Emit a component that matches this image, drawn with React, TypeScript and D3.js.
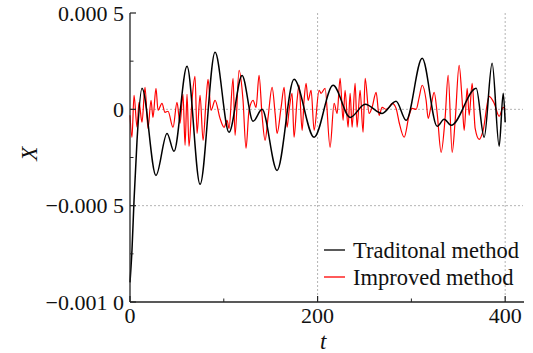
import React from "react";
import * as d3 from "d3";

// traditional method: time and X
const tradT = [0, 2.1, 4.3, 7.5, 12.8, 27.7, 39.5, 46.9, 60.8, 74.7, 90.7, 105.6, 119.5, 131.2, 140.8, 156.8, 174.9, 196.3, 216.5, 234.7, 250.7, 268.8, 283.7, 294.4, 311.5, 327.5, 334.9, 342.4, 369.1, 377.6, 386.1, 393.6, 397.9, 400];
const tradX = [-0.000898, -0.000732, -0.000472, -0.000161, 0.000109, -0.000343, -0.000125, -0.000218, 0.000223, -0.000389, 0.000296, -0.000119, 0.000176, -0.000062, 0.0, -0.000317, 0.000156, -0.000145, 0.000125, -0.000042, 0.000026, -0.000021, 0.000042, -0.000057, 0.000265, -0.000088, -0.000052, -0.000083, 0.000109, -0.000145, 0.000239, -0.000192, 0.000083, -0.000067];

// improved method: time and X
const implT = [0, 2.1, 4.3, 7.5, 9.6, 12.8, 16, 19.2, 22.4, 24.5, 27.7, 29.9, 34.1, 37.3, 40.5, 45.9, 50.1, 53.3, 56.5, 58.7, 60.8, 62.9, 66.1, 69.3, 71.5, 74.7, 77.9, 81.1, 83.2, 86.4, 90.7, 96, 100.3, 103.5, 105.6, 109.9, 112, 116.3, 120.5, 123.7, 126.9, 131.2, 134.4, 137.6, 140.8, 144, 147.2, 151.5, 154.7, 156.8, 161.1, 164.3, 167.5, 169.6, 172.8, 174.9, 178.1, 180.3, 183.5, 185.6, 187.7, 189.9, 193.1, 196.3, 201.6, 203.7, 208, 213.3, 217.6, 220.8, 224, 227.2, 229.3, 232.5, 234.7, 236.8, 240, 242.1, 245.3, 248.5, 250.7, 254.9, 258.1, 262.4, 265.6, 268.8, 273.1, 276.3, 279.5, 283.7, 286.9, 292.3, 297.6, 300.8, 305.1, 308.3, 311.5, 315.7, 317.9, 321.1, 324.3, 327.5, 331.7, 336, 339.2, 343.5, 346.7, 350.9, 354.1, 356.3, 359.5, 361.6, 364.8, 368, 372.3, 376.5, 382.9, 388.3, 393.6, 397.9, 400];
const implX = [-0.000031, -0.000145, 0.000073, -0.000093, 0.000036, -0.000067, 0.000114, -0.000099, 0.000047, -0.000042, 0.000109, -0.000005, 0.000031, -0.000016, -0.00001, -0.000093, 0.000036, -0.000073, 0.000078, -0.000187, 0.000078, -0.000192, 0.000047, 0.000171, -0.000125, 0.000073, -0.000161, 0.000047, 0.000156, -0.000005, 0.000047, -0.000047, -0.000093, -0.000057, -0.000099, 0.000161, -0.000135, 0.000202, 0.000047, -0.000202, -0.000005, 0.000047, 0.00001, 0.000176, -0.000031, -0.000161, -0.000042, 0.000114, -0.000021, -0.000125, 0.00001, 0.000114, -0.000093, -0.000005, 0.000083, -0.000145, 0.000047, 0.000125, -0.000109, 0.000047, 0.000135, 0.000047, 0.000099, -0.000109, 0.000099, 0.000083, 0.000109, -0.000197, 0.000031, -0.000021, 0.000161, -0.000057, 0.000099, -0.000093, 0.000083, -0.000093, 0.000135, -0.000093, 0.000099, -0.000119, 0.000161, -0.000021, 0.00001, 0.000088, -0.000031, 0.00001, 0, 0.00001, 0.000031, 0.000005, -0.000067, -0.000145, -0.000031, 0.000005, 0, 0.000062, 0.000125, 0.000047, -0.000047, 0.000021, 0.000088, -0.000021, -0.000223, -0.000042, 0.000176, -0.000223, -0.000057, 0.000228, 0.000047, -0.000109, 0.000109, -0.000031, 0.000135, -0.000099, -0.000156, -0.000109, 0.000067, 0.000031, -0.000036, 0.00001, 0];

const yTicks = [-0.001, -0.0005, 0, 0.0005];
const yTickLabels = ["\u22120.001 0", "\u22120.000 5", "0", "0.000 5"];
const yMinor = [-0.00075, -0.00025, 0.00025];
const xTicks = [0, 200, 400];
const xMinor = [100, 300];
const xGrid = [200, 400];
const yGrid = [0, -0.0005];
const seriesNames = ["Traditonal method", "Improved method"];
const seriesColors = ["#000000", "#ff0000"];

export default function App() {
  const width = 533;
  const height = 353;
  const margin = { top: 13, right: 10, bottom: 51, left: 130 };
  const plotW = width - margin.left - margin.right;
  const plotH = height - margin.top - margin.bottom;

  const x = d3.scaleLinear().domain([0, 419]).range([0, plotW]);
  const y = d3.scaleLinear().domain([-0.001, 0.0005]).range([plotH, 0]);

  const line = d3
    .line<[number, number]>()
    .x((d) => x(d[0]))
    .y((d) => y(d[1]))
    .curve(d3.curveMonotoneX);

  const tradData = tradT.map((t, i) => [t, tradX[i]] as [number, number]);
  const implData = implT.map((t, i) => [t, implX[i]] as [number, number]);

  const font = "'Liberation Serif', 'DejaVu Serif', serif";

  return (
    <svg
      width={width}
      height={height}
      style={{ position: "absolute", left: 0, top: 0, background: "#fff" }}
      fontFamily={font}
    >
      <g transform={`translate(${margin.left},${margin.top})`}>
        {/* grid */}
        {xGrid.map((g) => (
          <line key={`xg${g}`} x1={x(g)} x2={x(g)} y1={0} y2={plotH} stroke="#aaa" strokeWidth={0.9} strokeDasharray="2,2" />
        ))}
        {yGrid.map((g) => (
          <line key={`yg${g}`} x1={0} x2={plotW} y1={y(g)} y2={y(g)} stroke="#aaa" strokeWidth={0.9} strokeDasharray="2,2" />
        ))}

        {/* series */}
        <path d={line(implData) || ""} fill="none" stroke={seriesColors[1]} strokeWidth={1.2} />
        <path d={line(tradData) || ""} fill="none" stroke={seriesColors[0]} strokeWidth={1.5} />

        {/* y axis */}
        <line x1={0} x2={0} y1={0} y2={plotH} stroke="#222" strokeWidth={1.3} />
        {yTicks.map((t, i) => (
          <g key={`yt${t}`} transform={`translate(0,${y(t)})`}>
            <line x1={0} x2={6} stroke="#222" strokeWidth={1.2} />
            <text x={-6} dy="0.35em" textAnchor="end" fontSize={22} fill="#111">
              {yTickLabels[i]}
            </text>
          </g>
        ))}
        {yMinor.map((t) => (
          <line key={`ym${t}`} x1={0} x2={3.5} y1={y(t)} y2={y(t)} stroke="#222" strokeWidth={1} />
        ))}

        {/* x axis */}
        <line x1={0} x2={plotW + 1} y1={plotH} y2={plotH} stroke="#222" strokeWidth={1.3} />
        {xTicks.map((t) => (
          <g key={`xt${t}`} transform={`translate(${x(t)},${plotH})`}>
            <line y1={0} y2={-6} stroke="#222" strokeWidth={1.2} />
            <text y={21} textAnchor="middle" fontSize={22} fill="#111">
              {t}
            </text>
          </g>
        ))}
        {xMinor.map((t) => (
          <line key={`xm${t}`} x1={x(t)} x2={x(t)} y1={plotH} y2={plotH - 3.5} stroke="#222" strokeWidth={1} />
        ))}

        {/* axis titles */}
        <text x={x(206)} y={plotH + 47} textAnchor="middle" fontSize={23} fontStyle="italic" fill="#111">
          t
        </text>
        <text
          transform={`translate(${-101},${y(-0.00023)}) rotate(-90)`}
          textAnchor="middle"
          dy="0.35em"
          fontSize={23}
          fontStyle="italic"
          fill="#111"
        >
          X
        </text>

        {/* legend */}
        {seriesNames.map((name, i) => (
          <g key={name} transform={`translate(${plotW - 199},${plotH - 52 + i * 27})`}>
            <line x1={0} x2={21} stroke={seriesColors[i]} strokeWidth={1.3} />
            <text x={29} dy="0.35em" fontSize={22.5} fill="#111">
              {name}
            </text>
          </g>
        ))}
      </g>
    </svg>
  );
}
